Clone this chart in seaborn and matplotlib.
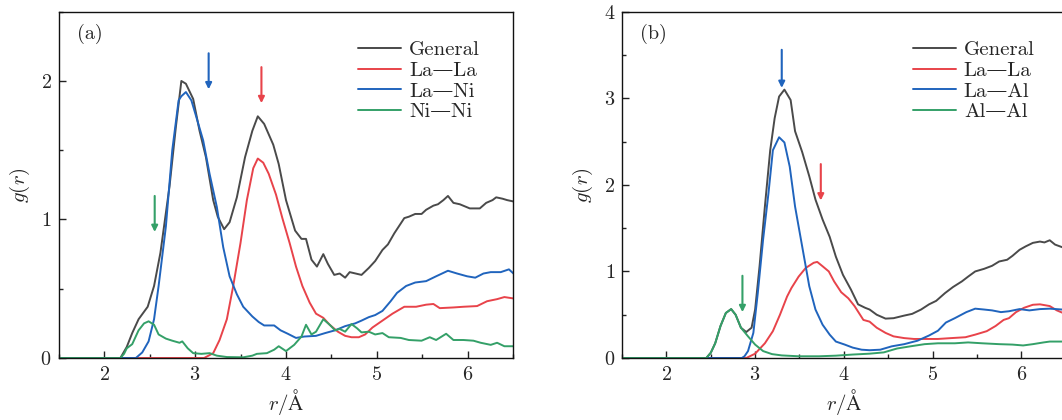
import numpy as np
import pandas as pd
import matplotlib
matplotlib.use("Agg")
import matplotlib.pyplot as plt
from matplotlib.ticker import MultipleLocator
import seaborn as sns

# ---------------- data: panel (a) La-Ni ----------------
a_gen_x = [1.5, 2.18, 2.25, 2.31, 2.38, 2.48, 2.55, 2.62, 2.72, 2.79, 2.85, 2.90, 2.98, 3.05, 3.12, 3.20, 3.25, 3.32, 3.38, 3.46,
           3.55, 3.63, 3.69, 3.76, 3.86, 3.92, 4.00, 4.10, 4.17, 4.22, 4.28, 4.34, 4.41, 4.46, 4.53, 4.59, 4.65, 4.70, 4.83, 4.91,
           4.98, 5.06, 5.12, 5.19, 5.30, 5.35, 5.42, 5.49, 5.54, 5.62, 5.67, 5.73, 5.78, 5.84, 5.91, 6.02, 6.13, 6.20, 6.27, 6.31,
           6.38, 6.43, 6.50]
a_gen_y = [0, 0, 0.08, 0.18, 0.28, 0.37, 0.52, 0.76, 1.24, 1.67, 2.00, 1.98, 1.87, 1.64, 1.45, 1.14, 1.02, 0.93, 0.98, 1.16,
           1.45, 1.64, 1.745, 1.69, 1.54, 1.40, 1.14, 0.92, 0.86, 0.86, 0.71, 0.66, 0.75, 0.68, 0.60, 0.61, 0.58, 0.62, 0.60, 0.65,
           0.70, 0.78, 0.82, 0.90, 1.01, 1.02, 1.04, 1.04, 1.07, 1.10, 1.11, 1.14, 1.17, 1.12, 1.11, 1.08, 1.08, 1.12, 1.14, 1.16,
           1.15, 1.14, 1.13]

a_lala_x = [1.5, 3.10, 3.20, 3.27, 3.35, 3.42, 3.50, 3.57, 3.64, 3.69, 3.75, 3.81, 3.89, 3.96, 4.04, 4.11, 4.18, 4.26, 4.33, 4.41,
            4.48, 4.57, 4.65, 4.72, 4.80, 4.87, 4.95, 5.06, 5.17, 5.30, 5.43, 5.54, 5.62, 5.69, 5.84, 5.95, 6.10, 6.21, 6.32, 6.40,
            6.50]
a_lala_y = [0, 0, 0.035, 0.13, 0.28, 0.52, 0.83, 1.14, 1.37, 1.44, 1.41, 1.33, 1.18, 1.01, 0.83, 0.66, 0.52, 0.40, 0.32, 0.29,
            0.24, 0.19, 0.16, 0.15, 0.15, 0.17, 0.22, 0.27, 0.32, 0.37, 0.37, 0.385, 0.39, 0.36, 0.365, 0.37, 0.375, 0.41, 0.425, 0.44,
            0.43]

a_lani_x = [1.5, 2.35, 2.42, 2.49, 2.55, 2.60, 2.68, 2.75, 2.82, 2.85, 2.90, 2.96, 3.01, 3.09, 3.16, 3.24, 3.31, 3.38, 3.46, 3.53,
            3.63, 3.70, 3.76, 3.87, 3.94, 4.02, 4.11, 4.20, 4.33, 4.43, 4.54, 4.65, 4.76, 4.83, 4.91, 4.98, 5.06, 5.15, 5.22, 5.32,
            5.42, 5.54, 5.65, 5.78, 5.88, 5.99, 6.08, 6.17, 6.25, 6.36, 6.45, 6.50]
a_lani_y = [0, 0, 0.04, 0.12, 0.28, 0.52, 0.95, 1.50, 1.86, 1.89, 1.92, 1.86, 1.75, 1.57, 1.33, 1.09, 0.80, 0.59, 0.46, 0.37,
            0.30, 0.26, 0.235, 0.235, 0.20, 0.175, 0.145, 0.155, 0.16, 0.18, 0.20, 0.23, 0.25, 0.27, 0.295, 0.31, 0.34, 0.41, 0.47, 0.52,
            0.545, 0.555, 0.59, 0.63, 0.61, 0.59, 0.58, 0.61, 0.62, 0.62, 0.64, 0.61]

a_nini_x = [1.5, 2.18, 2.22, 2.25, 2.31, 2.38, 2.44, 2.49, 2.55, 2.60, 2.68, 2.75, 2.83, 2.86, 2.92, 2.98, 3.07, 3.16, 3.24, 3.35,
            3.53, 3.63, 3.68, 3.79, 3.87, 3.92, 4.00, 4.09, 4.17, 4.22, 4.28, 4.33, 4.41, 4.48, 4.54, 4.59, 4.65, 4.72, 4.78, 4.83,
            4.91, 4.98, 5.06, 5.13, 5.26, 5.35, 5.49, 5.58, 5.65, 5.76, 5.84, 5.95, 6.06, 6.14, 6.25, 6.32, 6.40, 6.50]
a_nini_y = [0, 0, 0.03, 0.07, 0.10, 0.20, 0.25, 0.265, 0.24, 0.17, 0.14, 0.125, 0.11, 0.12, 0.07, 0.035, 0.03, 0.035, 0.017, 0.007,
            0.005, 0.017, 0.03, 0.035, 0.06, 0.085, 0.05, 0.095, 0.155, 0.24, 0.17, 0.19, 0.28, 0.24, 0.20, 0.21, 0.19, 0.245, 0.215, 0.185,
            0.19, 0.17, 0.18, 0.15, 0.145, 0.13, 0.125, 0.15, 0.13, 0.175, 0.13, 0.13, 0.125, 0.11, 0.095, 0.11, 0.085, 0.085]

# ---------------- data: panel (b) La-Al ----------------
b_gen_x = [1.5, 2.45, 2.50, 2.55, 2.61, 2.67, 2.73, 2.78, 2.84, 2.90, 2.96, 3.00, 3.05, 3.11, 3.17, 3.22, 3.27, 3.33, 3.40, 3.45,
           3.53, 3.61, 3.68, 3.76, 3.84, 3.91, 3.99, 4.08, 4.16, 4.24, 4.29, 4.37, 4.47, 4.56, 4.68, 4.77, 4.87, 4.96, 5.04, 5.14,
           5.23, 5.33, 5.40, 5.48, 5.58, 5.67, 5.75, 5.84, 5.90, 5.98, 6.05, 6.13, 6.21, 6.26, 6.32, 6.38, 6.46, 6.50]
b_gen_y = [0, 0, 0.06, 0.17, 0.37, 0.52, 0.565, 0.50, 0.35, 0.30, 0.35, 0.56, 1.06, 1.75, 2.40, 2.77, 3.02, 3.10, 2.98, 2.62,
           2.38, 2.10, 1.83, 1.60, 1.40, 1.17, 0.96, 0.79, 0.62, 0.58, 0.56, 0.50, 0.455, 0.46, 0.49, 0.51, 0.56, 0.62, 0.66, 0.75,
           0.82, 0.885, 0.94, 1.00, 1.03, 1.065, 1.115, 1.135, 1.18, 1.25, 1.29, 1.33, 1.345, 1.335, 1.36, 1.31, 1.28, 1.27]

b_lala_x = [1.5, 2.90, 3.00, 3.11, 3.20, 3.28, 3.36, 3.41, 3.49, 3.57, 3.66, 3.70, 3.76, 3.83, 3.89, 3.97, 4.05, 4.12, 4.22, 4.29,
            4.37, 4.47, 4.56, 4.68, 4.79, 4.94, 5.06, 5.21, 5.37, 5.48, 5.61, 5.71, 5.80, 5.86, 5.94, 6.03, 6.13, 6.21, 6.32, 6.40,
            6.47, 6.50]
b_lala_y = [0, 0, 0.05, 0.17, 0.31, 0.50, 0.71, 0.81, 0.94, 1.04, 1.10, 1.11, 1.06, 1.00, 0.885, 0.76, 0.69, 0.60, 0.44, 0.42,
            0.35, 0.29, 0.25, 0.23, 0.22, 0.22, 0.22, 0.23, 0.24, 0.27, 0.31, 0.37, 0.44, 0.46, 0.53, 0.58, 0.615, 0.62, 0.60, 0.55,
            0.52, 0.51]

b_laal_x = [1.5, 2.85, 2.88, 2.92, 2.98, 3.03, 3.09, 3.15, 3.20, 3.27, 3.33, 3.39, 3.45, 3.53, 3.61, 3.68, 3.76, 3.84, 3.91, 4.01,
            4.10, 4.20, 4.29, 4.41, 4.54, 4.68, 4.83, 4.96, 5.06, 5.15, 5.25, 5.38, 5.48, 5.58, 5.67, 5.77, 5.86, 5.98, 6.09, 6.21,
            6.32, 6.46, 6.50]
b_laal_y = [0, 0, 0.02, 0.08, 0.29, 0.75, 1.37, 1.90, 2.40, 2.55, 2.49, 2.21, 1.75, 1.29, 0.83, 0.56, 0.385, 0.27, 0.19, 0.155,
            0.12, 0.096, 0.09, 0.096, 0.135, 0.16, 0.20, 0.26, 0.315, 0.41, 0.46, 0.53, 0.57, 0.56, 0.55, 0.53, 0.54, 0.565, 0.55, 0.565,
            0.57, 0.56, 0.56]

b_alal_x = [1.5, 2.45, 2.50, 2.55, 2.61, 2.67, 2.73, 2.78, 2.84, 2.92, 3.00, 3.09, 3.19, 3.30, 3.49, 3.72, 3.91, 4.10, 4.29, 4.45,
            4.60, 4.75, 4.91, 5.06, 5.25, 5.40, 5.56, 5.75, 5.90, 6.02, 6.13, 6.25, 6.32, 6.50]
b_alal_y = [0, 0, 0.06, 0.17, 0.37, 0.52, 0.565, 0.50, 0.35, 0.25, 0.155, 0.08, 0.045, 0.03, 0.02, 0.02, 0.027, 0.04, 0.05, 0.065,
            0.11, 0.135, 0.16, 0.17, 0.17, 0.18, 0.17, 0.16, 0.155, 0.145, 0.16, 0.18, 0.19, 0.19]

labels_a = ["General", "La—La", "La—Ni", "Ni—Ni"]
labels_b = ["General", "La—La", "La—Al", "Al—Al"]
colors = ["#4a4a4a", "#e8434a", "#2064bd", "#34a068"]

# arrows: (x, y_top, y_tip)
arrows_a = [(3.15, 2.20, 1.94), (3.73, 2.10, 1.84), (2.557, 1.17, 0.91)]
arrows_b = [(3.30, 3.56, 3.12), (3.74, 2.24, 1.82), (2.857, 0.95, 0.53)]

# ---------------- style ----------------
sns.set_style("ticks")
plt.rcParams["font.family"] = ["cmr10", "DejaVu Serif"]
plt.rcParams["mathtext.fontset"] = "cm"
plt.rcParams["axes.formatter.use_mathtext"] = True
plt.rcParams["axes.unicode_minus"] = False

fig = plt.figure(figsize=(10.62, 4.2), dpi=100)
ax_a = fig.add_axes([0.0551, 0.1476, 0.4284, 0.8245])
ax_b = fig.add_axes([0.5857, 0.1476, 0.4178, 0.8245])


def make_df(xs, ys, labels):
    frames = []
    for x, y, lab in zip(xs, ys, labels):
        frames.append(pd.DataFrame({"r": x, "g": y, "pair": lab}))
    return pd.concat(frames, ignore_index=True)


df_a = make_df([a_gen_x, a_lala_x, a_lani_x, a_nini_x], [a_gen_y, a_lala_y, a_lani_y, a_nini_y], labels_a)
df_b = make_df([b_gen_x, b_lala_x, b_laal_x, b_alal_x], [b_gen_y, b_lala_y, b_laal_y, b_alal_y], labels_b)

for ax, df, labels, ymax, arrows, tag, leg_x in [
    (ax_a, df_a, labels_a, 2.5, arrows_a, "(a)", 0.641),
    (ax_b, df_b, labels_b, 4.0, arrows_b, "(b)", 0.638),
]:
    sns.lineplot(data=df, x="r", y="g", hue="pair", hue_order=labels,
                 palette=dict(zip(labels, colors)), sort=False, estimator=None,
                 linewidth=1.4, ax=ax)
    ax.set_xlim(1.5, 6.5)
    ax.set_ylim(0, ymax)
    ax.xaxis.set_major_locator(MultipleLocator(1))
    ax.xaxis.set_minor_locator(MultipleLocator(0.5))
    ax.yaxis.set_major_locator(MultipleLocator(1))
    ax.yaxis.set_minor_locator(MultipleLocator(0.5))
    ax.tick_params(which="both", direction="in", top=False, right=False,
                   labelsize=14.5, width=1.0, color="#222222")
    ax.tick_params(which="major", length=5)
    ax.tick_params(which="minor", length=3)
    ax.tick_params(axis="x", which="major", pad=6)
    ax.tick_params(axis="y", which="major", pad=5)
    for s in ax.spines.values():
        s.set_linewidth(1.0)
        s.set_color("#111111")
    ax.set_xlabel(r"$r/\mathrm{\AA}$", fontsize=15, labelpad=2)
    ax.set_ylabel(r"$g(r)$", fontsize=15, labelpad=6)
    ax.text(0.04, 0.935, tag, transform=ax.transAxes, fontsize=14.5,
            ha="left", va="center")
    handles, labs = ax.get_legend_handles_labels()
    ax.legend(handles, labs, loc="upper left", frameon=False, fontsize=15,
              handlelength=2.06, handletextpad=0.36, labelspacing=0.1,
              borderpad=0.4, borderaxespad=0.0, bbox_to_anchor=(leg_x, 0.94))
    for (xa, y0, y1), c in zip(arrows, [colors[2], colors[1], colors[3]]):
        ax.annotate("", xy=(xa, y1), xytext=(xa, y0),
                    arrowprops=dict(arrowstyle="-|>", color=c, lw=1.5,
                                    mutation_scale=9, shrinkA=0, shrinkB=0))

fig.savefig("out.png", dpi=100)
